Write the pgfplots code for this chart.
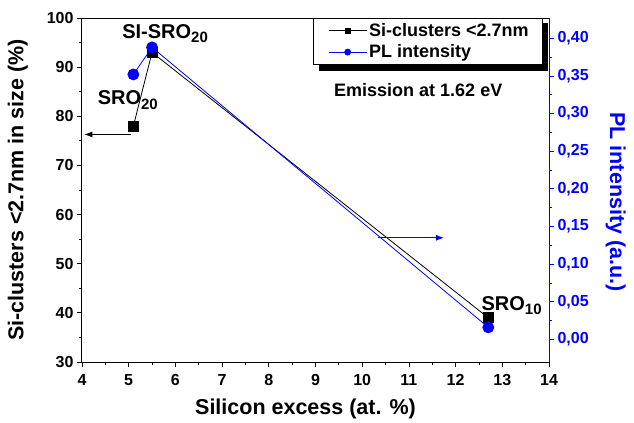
\documentclass[border=0pt]{standalone}
\usepackage{fontspec}
\setmainfont{Liberation Sans}
\usepackage{pgfplots}
\pgfplotsset{compat=1.18}
\usetikzlibrary{arrows.meta,calc}
\definecolor{plblue}{RGB}{0,0,255}

\newcommand{\sub}[1]{\raisebox{-0.4ex}{\fontsize{15}{15}\selectfont #1}}

\pgfplotsset{
  common/.style={
    width=467pt, height=344pt, scale only axis,
    xmin=4, xmax=14,
    tick align=outside,
    major tick length=5pt, minor tick length=3pt,
    /pgf/number format/assume math mode=true,
    tick label style={font=\fontsize{16}{16}\selectfont\bfseries},
    label style={font=\fontsize{21.5}{22}\selectfont\bfseries},
    axis line style={line width=1pt},
    every tick/.style={line width=0.8pt},
  }
}

\begin{document}
\begin{tikzpicture}
\begin{axis}[common, name=ax,
  ymin=30, ymax=100,
  xtick={4,5,...,14}, minor x tick num=1,
  ytick={30,40,...,100}, minor y tick num=1,
  xtick pos=bottom, ytick pos=left,
  xticklabel style={yshift=-4pt},
  xlabel={Silicon excess (at. \%)},
  ylabel={Si-clusters <2.7nm in size (\%)},
  xlabel style={yshift=-6pt, xshift=-10pt},
  ylabel style={yshift=12pt},
]
\addplot[black, line width=0.8pt, mark=square*, mark size=5pt]
  coordinates {(5.1,78) (5.5,93) (12.7,39)};
\draw[black, line width=0.9pt, -{Latex[length=8pt,width=6pt]}] (axis cs:5.05,76.3) -- (axis cs:4.05,76.3);
\node[font=\fontsize{20}{20}\selectfont\bfseries] at (axis cs:5.78,96.9) {SI-SRO\sub{20}};
\node[font=\fontsize{20}{20}\selectfont\bfseries] at (axis cs:4.98,83.3) {SRO\sub{20}};
\node[font=\fontsize{20}{20}\selectfont\bfseries] at (axis cs:13.2,41.5) {SRO\sub{10}};
\node[font=\fontsize{18}{18}\selectfont\bfseries] at (axis cs:11.2,85.3) {Emission at 1.62 eV};
\end{axis}
\begin{axis}[common,
  ymin=-0.03, ymax=0.427,
  axis x line=none,
  axis y line*=right,
  ytick={0,0.05,...,0.401}, minor y tick num=1,
  y axis line style={plblue, line width=1pt},
  ytick style={plblue},
  yticklabel style={plblue, /pgf/number format/.cd, use comma, fixed, fixed zerofill, precision=2},
  ylabel={PL intensity (a.u.)},
  ylabel style={plblue, rotate=180, yshift=10pt, xshift=12pt},
  legend style={at={(0.987,1)}, anchor=north east, name=leg,
    font=\fontsize{18}{19}\selectfont\bfseries,
    draw=black, line width=0.6pt, fill=white,
    inner xsep=12pt, inner ysep=3pt, row sep=3pt,
    nodes={inner sep=2pt}},
  legend cell align=left,
  legend image post style={line width=0.8pt},
  legend image code/.code={
    \path (0pt,0pt);
    \draw[#1, mark=none] (3pt,0pt) -- (41pt,0pt);
    \draw[#1, only marks] plot coordinates {(22pt,0pt)};
  },
]
\addlegendimage{black, mark=square*, mark size=2.6pt}
\addlegendentry{Si-clusters <2.7nm}
\addlegendimage{plblue, mark=*, mark size=3pt, mark options={fill=plblue}}
\addlegendentry{PL intensity}
\addplot[plblue, line width=0.8pt, mark=*, mark size=5.5pt, mark options={fill=plblue}, forget plot]
  coordinates {(5.1,0.352) (5.5,0.388) (12.7,0.016)};
\draw[plblue, line width=0.9pt, -{Latex[length=8pt,width=6pt]}] (axis cs:10.33,0.135) -- (axis cs:11.75,0.135);
\end{axis}
\fill[black] ($(leg.south west)+(6pt,0)$) rectangle ($(leg.south east)+(5pt,-6pt)$);
\fill[black] ($(leg.north east)+(0,-5pt)$) rectangle ($(leg.south east)+(5pt,0)$);
\path ($(ax.south west)+(-82pt,-56pt)$) rectangle ($(ax.south west)+(552pt,362pt)$);
\end{tikzpicture}
\end{document}
